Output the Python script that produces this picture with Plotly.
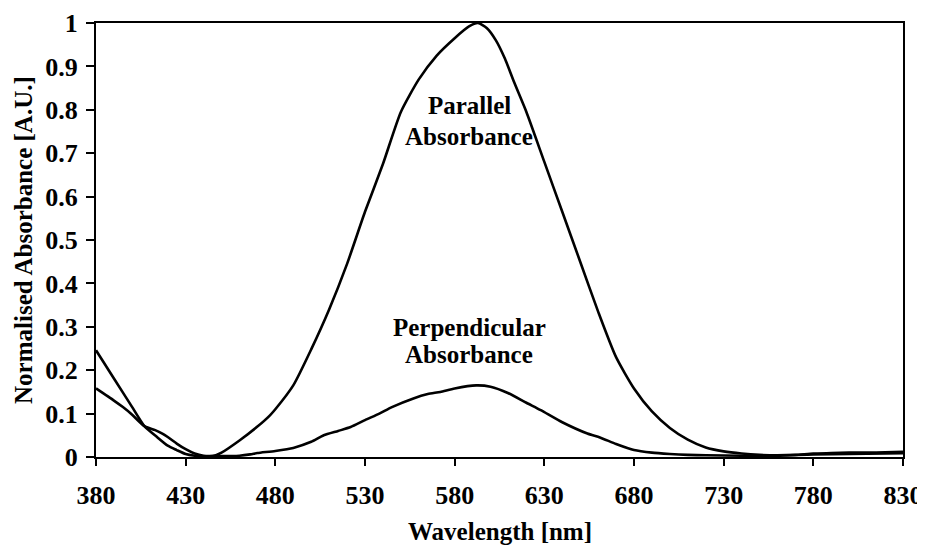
import plotly.graph_objects as go

# Parallel absorbance
par_wl = [380, 390, 400, 407, 414, 420, 425, 430, 435, 440, 445, 450, 460, 470, 477, 480, 490, 500,
          510, 520, 530, 540, 550, 560, 570, 580, 588, 593, 598, 603, 608, 613, 620, 630, 640, 650,
          660, 670, 680, 690, 700, 710, 720, 730, 740, 750, 760, 770, 780, 790, 800, 810, 820, 830]
par_val = [0.246, 0.181, 0.116, 0.071, 0.046, 0.026, 0.016, 0.007, 0.003, 0.001, 0.002, 0.010, 0.038, 0.070, 0.096, 0.110, 0.165, 0.248,
           0.340, 0.445, 0.565, 0.675, 0.795, 0.870, 0.925, 0.965, 0.992, 1.000, 0.988, 0.960, 0.918, 0.865, 0.795, 0.680, 0.565, 0.450,
           0.335, 0.230, 0.158, 0.105, 0.067, 0.040, 0.022, 0.013, 0.008, 0.005, 0.004, 0.005, 0.008, 0.009, 0.010, 0.010, 0.011, 0.012]

# Perpendicular absorbance
perp_wl = [380, 390, 395, 400, 407, 413, 417, 420, 425, 430, 435, 440, 450, 460, 466, 470, 480, 490, 500,
           507, 515, 522, 530, 538, 545, 557, 565, 572, 580, 592, 600, 610, 620, 628, 640, 654, 661,
           670, 680, 690, 700, 710, 720, 740, 760, 780, 800, 830]
perp_val = [0.158, 0.130, 0.115, 0.098, 0.071, 0.062, 0.054, 0.046, 0.031, 0.018, 0.008, 0.003, 0.002, 0.003, 0.006, 0.009, 0.014, 0.021, 0.035,
            0.050, 0.060, 0.069, 0.085, 0.100, 0.115, 0.135, 0.145, 0.150, 0.158, 0.165, 0.162, 0.147, 0.125, 0.108, 0.080, 0.054, 0.045,
            0.030, 0.016, 0.010, 0.007, 0.005, 0.004, 0.003, 0.003, 0.006, 0.007, 0.009]

x_ticks = [380, 430, 480, 530, 580, 630, 680, 730, 780, 830]
y_ticks = [0, 0.1, 0.2, 0.3, 0.4, 0.5, 0.6, 0.7, 0.8, 0.9, 1]
y_tick_text = ["0", "0.1", "0.2", "0.3", "0.4", "0.5", "0.6", "0.7", "0.8", "0.9", "1"]

labels = [("Parallel", 588, 0.81), ("Absorbance", 588, 0.738),
          ("Perpendicular", 588, 0.298), ("Absorbance", 588, 0.236)]

FONT = "Liberation Serif"

fig = go.Figure()
fig.add_trace(go.Scatter(x=par_wl, y=par_val, mode="lines",
                         line=dict(color="black", width=2.6, shape="spline", smoothing=0.6),
                         showlegend=False, hoverinfo="skip"))
fig.add_trace(go.Scatter(x=perp_wl, y=perp_val, mode="lines",
                         line=dict(color="black", width=2.6, shape="spline", smoothing=0.6),
                         showlegend=False, hoverinfo="skip"))

for txt, xx, yy in labels:
    fig.add_annotation(x=xx, y=yy, xref="x", yref="y", text=txt, showarrow=False,
                       font=dict(family=FONT, size=25, color="black", weight="bold"),
                       xanchor="center", yanchor="middle")

fig.add_annotation(x=0.5, y=-0.172, xref="paper", yref="paper", text="Wavelength [nm]",
                   showarrow=False, xanchor="center", yanchor="middle",
                   font=dict(family=FONT, size=25, color="black", weight="bold"))
fig.add_annotation(x=-0.0905, y=0.5, xref="paper", yref="paper", text="Normalised Absorbance [A.U.]",
                   showarrow=False, xanchor="center", yanchor="middle", textangle=-90,
                   font=dict(family=FONT, size=25, color="black", weight="bold"))

fig.update_xaxes(range=[380, 830], tickvals=x_ticks, ticktext=[str(v) for v in x_ticks],
                 showgrid=False, zeroline=False, showline=True, linecolor="black", linewidth=2,
                 mirror=True, ticks="outside", ticklen=7, tickwidth=1.5, tickcolor="black",
                 ticklabelstandoff=7,
                 tickfont=dict(family=FONT, size=26, color="black", weight="bold"))
fig.update_yaxes(range=[0, 1], tickvals=y_ticks, ticktext=y_tick_text,
                 showgrid=False, zeroline=False, showline=True, linecolor="black", linewidth=2,
                 mirror=True, ticks="outside", ticklen=8, tickwidth=1.5, tickcolor="black",
                 ticklabelstandoff=3,
                 tickfont=dict(family=FONT, size=26, color="black", weight="bold"))

# page body has an 8px margin, so the figure is sized/offset to land the plot area
# at the reference position inside the 925x548 window
fig.update_layout(width=917, height=540, autosize=False,
                  margin=dict(l=88, r=22, t=15, b=91, pad=0, autoexpand=False),
                  paper_bgcolor="white", plot_bgcolor="white")

fig.write_html("out.html")
